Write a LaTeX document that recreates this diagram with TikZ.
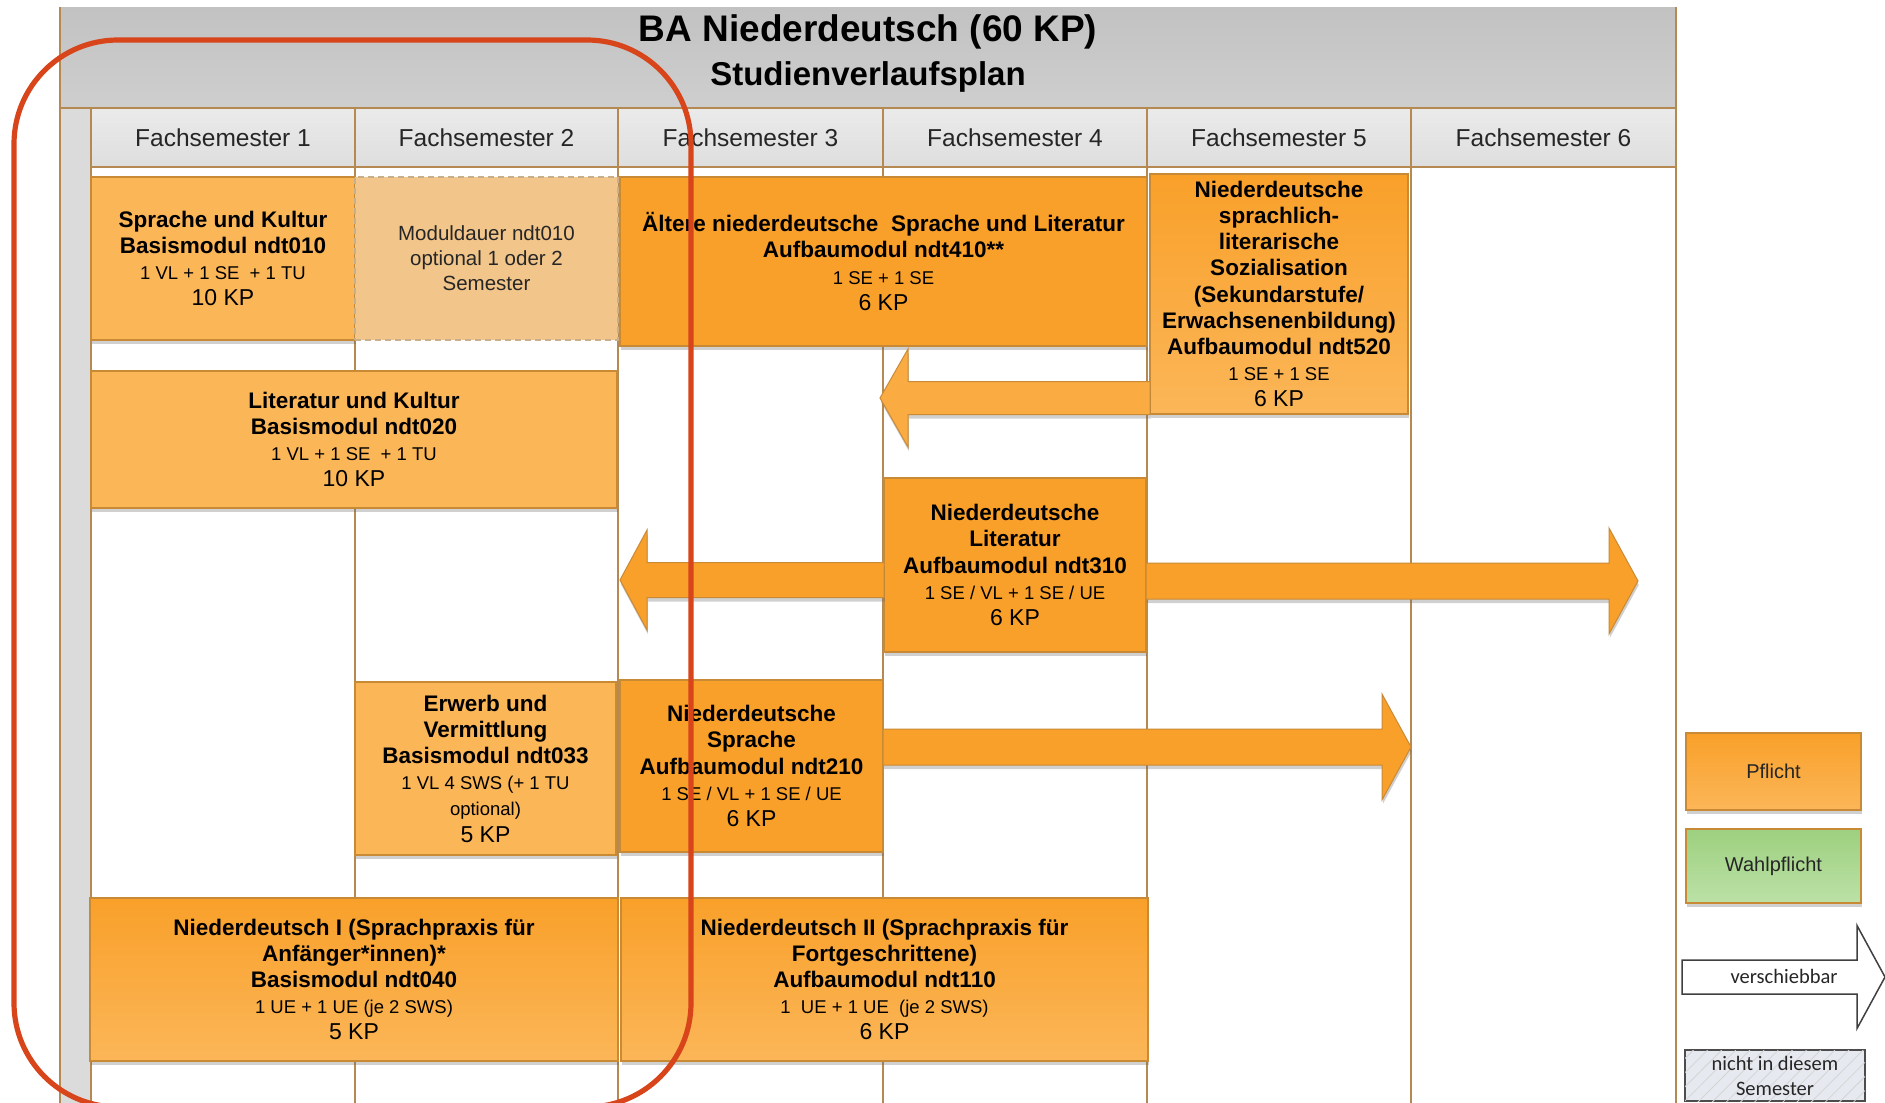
\documentclass[tikz,border=0pt]{standalone}
\usepackage{fontspec}
\setmainfont{Liberation Sans}
\newfontfamily\calib{Carlito}
\usetikzlibrary{shadows,patterns.meta,calc}

\definecolor{gridc}{HTML}{B48A52}
\definecolor{orL}{HTML}{FBB658}
\definecolor{orD}{HTML}{F9A02A}
\definecolor{orE}{HTML}{C98A35}
\definecolor{dashf}{HTML}{F2C58B}
\definecolor{dashe}{HTML}{C9AE8A}
\definecolor{redl}{HTML}{D8451B}
\definecolor{greT}{HTML}{9DD07F}
\definecolor{greB}{HTML}{BCE1A7}
\definecolor{hatchf}{HTML}{E6EAF0}

\newcommand\bT{\fontsize{11.25}{13.1}\selectfont\bfseries}
\newcommand\dT{\fontsize{9.25}{13.1}\selectfont\mdseries}
\newcommand\kT{\fontsize{11.5}{13.1}\selectfont\mdseries}

% rectangular node between two corners: #1 style, #2 name, #3 x1, #4 y1, #5 x2, #6 y2, #7 text
\newcommand\modnode[7]{%
  \node[#1, minimum width={(#5-#3)*0.5pt}, minimum height={(#6-#4)*0.5pt}]
     (#2) at ({(#3+#5)/2},{(#4+#6)/2}) {#7};}

% #1 style, #2 start anchor, #3 tip coordinate, #4 head base offset from tip,
% #5 shaft half height, #6 head half height
\newcommand\blockarrow[6]{%
  \coordinate (#3s) at (#2 |- #3);
  \path[#1] ($(#3s)+(0,-#5)$) -- ($(#3)+(#4,-#5)$) -- ($(#3)+(#4,-#6)$) -- (#3)
     -- ($(#3)+(#4,#6)$) -- ($(#3)+(#4,#5)$) -- ($(#3s)+(0,#5)$) -- cycle;}

\begin{document}
\begin{tikzpicture}[x=0.5pt,y=-0.5pt,
  font=\fontsize{11.25}{13.1}\selectfont,
  cell/.style={inner sep=0pt, outer sep=0pt},
  hdr/.style={cell, draw=gridc, line width=0.8pt, top color=black!8, bottom color=black!13,
     text=black!85, font=\fontsize{12.25}{14}\selectfont},
  mod/.style={cell, draw=orE, line width=0.7pt, align=center, text=black,
     drop shadow={shadow xshift=0.4pt, shadow yshift=-2pt, opacity=0.3, fill=black!60}},
  modL/.style={mod, fill=orL},
  modD/.style={mod, fill=orD},
  modG/.style={mod, top color=orD, bottom color=orL},
  dbox/.style={cell, fill=dashf, draw=dashe, line width=0.7pt, dash pattern=on 3pt off 2pt,
     align=center, font=\fontsize{10.25}{12.5}\selectfont, text=black!85},
  barrow/.style={fill=orD, draw=orE, line width=0.5pt,
     drop shadow={shadow xshift=0.4pt, shadow yshift=-2pt, opacity=0.3, fill=black!60}},
  gline/.style={draw=gridc, line width=0.8pt}]

\useasboundingbox (0,0) rectangle (1885,1103);
\clip (0,0) rectangle (1885,1103);
\fill[white] (0,0) rectangle (1885,1103);
\coordinate (bot) at (0,1103);

% header
\modnode{cell, top color=black!24, bottom color=black!19}{head}{60}{7}{1676}{108}{}
\node[anchor=base, font=\fontsize{18.5}{20}\selectfont\bfseries] (title) at (868,41) {BA Niederdeutsch (60 KP)};
\node[anchor=base, font=\fontsize{16.5}{18}\selectfont\bfseries] (subtitle) at (868,85.5) {Studienverlaufsplan};

% left strip
\fill[black!14] (head.south west) rectangle (91,1103);

% semester headers
\modnode{hdr}{h1}{91}{108}{355}{167}{Fachsemester 1}
\modnode{hdr}{h2}{355}{108}{618}{167}{Fachsemester 2}
\modnode{hdr}{h3}{618}{108}{883}{167}{Fachsemester 3}
\modnode{hdr}{h4}{883}{108}{1147}{167}{Fachsemester 4}
\modnode{hdr}{h5}{1147}{108}{1411}{167}{Fachsemester 5}
\modnode{hdr}{h6}{1411}{108}{1676}{167}{Fachsemester 6}

% grid lines
\draw[gline] (head.south west) -- (head.south east);
\draw[gline] (head.north west) -- (head.north west |- bot);
\draw[gline] (head.north east) -- (head.north east |- bot);
\draw[gline] (h1.south west) -- (h1.south west |- bot);
\foreach \h in {h1,h2,h3,h4,h5,h6} \draw[gline] (\h.south east) -- (\h.south east |- bot);

% modules
\modnode{modL}{n010}{91}{177}{355}{340}{{\bT Sprache und Kultur}\\{\bT Basismodul ndt010}\\{\dT 1 VL + 1 SE\ \ + 1 TU}\\{\kT 10 KP}}
\modnode{dbox}{n010b}{355}{177}{618}{340}{Moduldauer ndt010\\optional 1 oder 2\\Semester}
\modnode{modD}{n410}{620}{177}{1147}{346}{{\bT Ältere niederdeutsche\ \ Sprache und Literatur}\\{\bT Aufbaumodul ndt410**}\\{\dT 1 SE + 1 SE}\\{\kT 6 KP}}
\modnode{modG}{n520}{1150}{174}{1408}{414}{{\bT Niederdeutsche}\\{\bT sprachlich-}\\{\bT literarische}\\{\bT Sozialisation}\\{\bT (Sekundarstufe/}\\{\bT Erwachsenenbildung)}\\{\bT Aufbaumodul ndt520}\\{\dT 1 SE + 1 SE}\\{\kT 6 KP}}
\modnode{modL}{n020}{91}{371}{617}{508}{{\bT Literatur und Kultur}\\{\bT Basismodul ndt020}\\{\dT 1 VL + 1 SE\ \ + 1 TU}\\{\kT 10 KP}}
\modnode{modD}{n310}{884}{478}{1146}{652}{{\bT Niederdeutsche}\\{\bT Literatur}\\{\bT Aufbaumodul ndt310}\\{\dT 1 SE / VL + 1 SE / UE}\\{\kT 6 KP}}
\modnode{modL}{n033}{355}{682}{616}{855}{{\bT Erwerb und}\\{\bT Vermittlung}\\{\bT Basismodul ndt033}\\{\dT 1 VL 4 SWS (+ 1 TU}\\{\dT optional)}\\{\kT 5 KP}}
\modnode{modD}{n210}{620}{680}{883}{852}{{\bT Niederdeutsche}\\{\bT Sprache}\\{\bT Aufbaumodul ndt210}\\{\dT 1 SE / VL + 1 SE / UE}\\{\kT 6 KP}}
\modnode{modG}{n040}{90}{898}{618}{1061}{{\bT Niederdeutsch I (Sprachpraxis für}\\{\bT Anfänger*innen)*}\\{\bT Basismodul ndt040}\\{\dT 1 UE + 1 UE (je 2 SWS)}\\{\kT 5 KP}}
\modnode{modG}{n110}{621}{898}{1148}{1061}{{\bT Niederdeutsch II (Sprachpraxis für}\\{\bT Fortgeschrittene)}\\{\bT Aufbaumodul ndt110}\\{\dT 1\ \ UE + 1 UE\ \ (je 2 SWS)}\\{\kT 6 KP}}

% movable arrows
\coordinate (a520) at (880,398);
\blockarrow{barrow, fill=orL!55!orD}{n520.west}{a520}{28}{16.5}{49}
\coordinate (a310l) at (620,580);
\blockarrow{barrow}{n310.west}{a310l}{27}{17.5}{50}
\coordinate (a310r) at (1638,581);
\blockarrow{barrow}{n310.east}{a310r}{-29}{18}{53}
\coordinate (a210) at (1411,747);
\blockarrow{barrow}{n210.east}{a210}{-29}{18}{53}

% legend
\modnode{modG, font=\fontsize{10}{12}\selectfont, text=black!85}{lp}{1686}{733}{1861}{810}{Pflicht}
\modnode{mod, top color=greT, bottom color=greB, font=\fontsize{10}{12}\selectfont, text=black!85}{lw}{1686}{829}{1861}{903}{Wahlpflicht}
\coordinate (lvs) at (1682,977);
\coordinate (lvtip) at (1885,977);
\blockarrow{fill=white, draw=black!75, line width=0.75pt}{lvs}{lvtip}{-28}{17}{51.5}
\node[font=\calib\fontsize{10.25}{12}\selectfont, text=black!85] (lv) at (1784,976) {verschiebbar};
\modnode{cell, fill=hatchf, draw=black!70, line width=0.75pt,
   postaction={pattern={Lines[angle=45,distance=5pt,line width=0.4pt]}, pattern color=black!17},
   align=center, font=\calib\fontsize{10.25}{12.5}\selectfont, text=black!85}{ln}{1685}{1050}{1865}{1101}{nicht in diesem\\Semester}

% red marking
\draw[redl, line width=2.6pt, rounded corners=52pt] (14,40) rectangle (691,1107);
\end{tikzpicture}
\end{document}
